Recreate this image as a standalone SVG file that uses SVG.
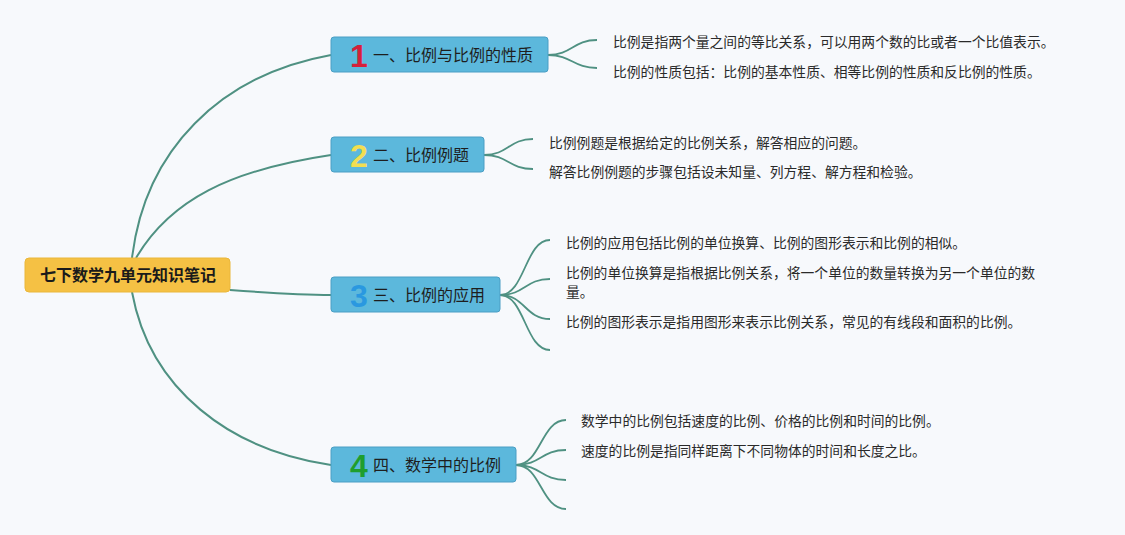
<svg xmlns="http://www.w3.org/2000/svg" width="1125" height="535" viewBox="0 0 1125 535">
<style>
.bg{fill:#f7f9fc}
.root{fill:#f5c144;stroke:#eab73a;stroke-width:1}
.rootText{font-family:"Noto Sans CJK SC","Liberation Sans",sans-serif;font-size:16px;font-weight:bold;fill:#1a1a1a}
.topic{fill:#5cb8dc;stroke:#4a9ec4;stroke-width:1}
.num{font-family:"Liberation Sans","DejaVu Sans",sans-serif;font-size:32px;font-weight:bold;text-anchor:middle}
.label{font-family:"Noto Sans CJK SC","Liberation Sans",sans-serif;font-size:16px;fill:#1e1e1e}
.sub{font-family:"Noto Sans CJK SC","Liberation Sans",sans-serif;font-size:13.8px;fill:#2a2a2a}
.main{fill:none;stroke:#4f9182;stroke-width:2}
.child{fill:none;stroke:#4f9182;stroke-width:1.8}
</style>
<rect class="bg" x="0" y="0" width="1125" height="535"/>
<g id="connectors">
<path class="main" d="M132,258 C145,150 220,75 331,55"/>
<path class="main" d="M136,258 C170,200 230,170 331,155"/>
<path class="main" d="M230,290 C270,293 300,295 331,295"/>
<path class="main" d="M132,292 C150,390 230,450 331,465"/>
<path class="child" d="M548,55 C572,55 573,40 597,40"/>
<path class="child" d="M548,55 C572,55 573,68 597,68"/>
<path class="child" d="M484,155 C508,155 509,139 533,139"/>
<path class="child" d="M484,155 C508,155 509,169 533,169"/>
<path class="child" d="M500,295 C525,295 525,240 550,240"/>
<path class="child" d="M500,295 C525,295 525,279 550,279"/>
<path class="child" d="M500,295 C525,295 525,319 550,319"/>
<path class="child" d="M500,295 C525,295 525,350 550,350"/>
<path class="child" d="M516,465 C541,465 541,420 566,420"/>
<path class="child" d="M516,465 C541,465 541,450 566,450"/>
<path class="child" d="M516,465 C541,465 541,480 566,480"/>
<path class="child" d="M516,465 C541,465 541,509 566,509"/>
</g>
<g id="root">
<rect class="root" x="25" y="258" width="205" height="34" rx="4"/>
<text class="rootText" x="128" y="281" text-anchor="middle">七下数学九单元知识笔记</text>
</g>
<g id="topic1">
<rect class="topic" x="331" y="37" width="217" height="35" rx="3"/>
<text class="num" x="359" y="66.5" fill="#d51f3a">1</text>
<text class="label" x="373" y="60.5">一、比例与比例的性质</text>
</g>
<g id="topic2">
<rect class="topic" x="331" y="137" width="153" height="35" rx="3"/>
<text class="num" x="359" y="166.5" fill="#f2de50">2</text>
<text class="label" x="373" y="160.5">二、比例例题</text>
</g>
<g id="topic3">
<rect class="topic" x="331" y="277" width="169" height="35" rx="3"/>
<text class="num" x="359" y="306.5" fill="#2a98e0">3</text>
<text class="label" x="373" y="300.5">三、比例的应用</text>
</g>
<g id="topic4">
<rect class="topic" x="331" y="447" width="185" height="35" rx="3"/>
<text class="num" x="359" y="476.5" fill="#1f9e2e">4</text>
<text class="label" x="373" y="470.5">四、数学中的比例</text>
</g>
<g id="sub1a"><text class="sub" x="613" y="47">比例是指两个量之间的等比关系，可以用两个数的比或者一个比值表示。</text></g>
<g id="sub1b"><text class="sub" x="613" y="77">比例的性质包括：比例的基本性质、相等比例的性质和反比例的性质。</text></g>
<g id="sub2a"><text class="sub" x="549" y="148">比例例题是根据给定的比例关系，解答相应的问题。</text></g>
<g id="sub2b"><text class="sub" x="549" y="177">解答比例例题的步骤包括设未知量、列方程、解方程和检验。</text></g>
<g id="sub3a"><text class="sub" x="566" y="248">比例的应用包括比例的单位换算、比例的图形表示和比例的相似。</text></g>
<g id="sub3b"><text class="sub" x="566" y="278">比例的单位换算是指根据比例关系，将一个单位的数量转换为另一个单位的数</text><text class="sub" x="566" y="297">量。</text></g>
<g id="sub3c"><text class="sub" x="566" y="327">比例的图形表示是指用图形来表示比例关系，常见的有线段和面积的比例。</text></g>
<g id="sub4a"><text class="sub" x="581" y="426">数学中的比例包括速度的比例、价格的比例和时间的比例。</text></g>
<g id="sub4b"><text class="sub" x="581" y="456">速度的比例是指同样距离下不同物体的时间和长度之比。</text></g>
</svg>
